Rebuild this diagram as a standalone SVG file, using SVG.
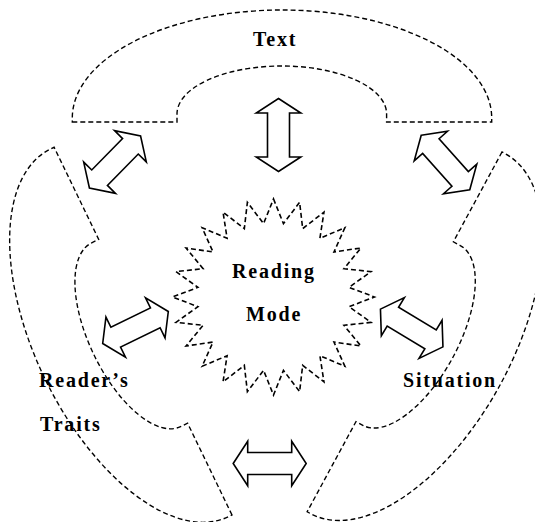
<svg xmlns="http://www.w3.org/2000/svg" xmlns:xlink="http://www.w3.org/1999/xlink" width="535" height="522" viewBox="0 0 535 522">
<style>
.lobe{fill:none;stroke:#000;stroke-width:1.4;stroke-dasharray:5 3}
.star{fill:none;stroke:#000;stroke-width:1.6;stroke-dasharray:5 3;stroke-linejoin:miter}
.arr{fill:#fff;stroke:#000;stroke-width:1.6;stroke-linejoin:miter}
.lbl{font-family:"Liberation Serif","Times New Roman",serif;font-weight:bold;font-size:20px;letter-spacing:1.8px;fill:#000}
</style>
<defs>
<path id="lobeShape" d="M72.3,122 L177,122 L177,114 A104.8,48 0 0 1 386.6,114 L386.6,122 L491.7,122 L491.7,118 A209.7,108 0 0 0 72.3,118 Z"/>
<path id="dblArrow" d="M-36.5,0 L-22,-22.3 L-22,-11 L22,-11 L22,-22.3 L36.5,0 L22,22.3 L22,11 L-22,11 L-22,22.3 Z"/>
</defs>
<rect width="535" height="522" fill="#fff"/>
<g id="node-text">
<use xlink:href="#lobeShape" class="lobe"/>
<text class="lbl" x="253" y="46">Text</text>
</g>
<g id="node-readers-traits">
<use xlink:href="#lobeShape" class="lobe" transform="matrix(-0.4241,-0.8768,0.8768,-0.4241,155.69,630.13)"/>
<text class="lbl" x="39" y="387">Reader’s</text>
<text class="lbl" x="40" y="431">Traits</text>
</g>
<g id="node-situation">
<use xlink:href="#lobeShape" class="lobe" transform="matrix(-0.4646,0.8578,-0.8578,-0.4646,640.24,146.66)"/>
<text class="lbl" x="403" y="387">Situation</text>
</g>
<g id="node-reading-mode">
<polygon class="star" transform="translate(273.5,297)" points="0,-98 9.95,-73.36 26.12,-94.66 29.17,-68.37 50.47,-84.87 46.4,-58.71 71.38,-69.3 60.47,-45.05 87.42,-49 70.42,-28.32 97.5,-25.36 75.56,-9.66 100.94,0 75.56,9.66 97.5,25.36 70.42,28.32 87.42,49 60.47,45.05 71.38,69.3 46.4,58.71 50.47,84.87 29.17,68.37 26.12,94.66 9.95,73.36 0,98 -9.95,73.36 -26.12,94.66 -29.17,68.37 -50.47,84.87 -46.4,58.71 -71.38,69.3 -60.47,45.05 -87.42,49 -70.42,28.32 -97.5,25.36 -75.56,9.66 -100.94,0 -75.56,-9.66 -97.5,-25.36 -70.42,-28.32 -87.42,-49 -60.47,-45.05 -71.38,-69.3 -46.4,-58.71 -50.47,-84.87 -29.17,-68.37 -26.12,-94.66 -9.95,-73.36"/>
<text class="lbl" x="232" y="278">Reading</text>
<text class="lbl" x="246" y="321">Mode</text>
</g>
<g id="connectors">
<use xlink:href="#dblArrow" class="arr" transform="translate(278.5,135) rotate(90)"/>
<use xlink:href="#dblArrow" class="arr" transform="translate(115,162) rotate(-45.5)"/>
<use xlink:href="#dblArrow" class="arr" transform="translate(445.5,162.5) rotate(48.3)"/>
<use xlink:href="#dblArrow" class="arr" transform="translate(135.5,327.5) rotate(-26)"/>
<use xlink:href="#dblArrow" class="arr" transform="translate(411.7,328) rotate(31.1)"/>
<use xlink:href="#dblArrow" class="arr" transform="translate(269.7,463.5)"/>
</g>
</svg>
